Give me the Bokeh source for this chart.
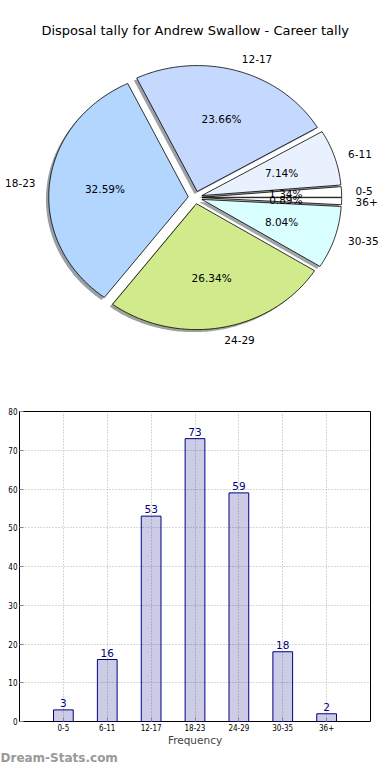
import numpy as np
from bokeh.plotting import figure
from bokeh.models import Range1d, Label, Title, FixedTicker, ColumnDataSource
from bokeh.embed import file_html
from bokeh.resources import INLINE
from bokeh.core.properties import value

# ---- data ----
categories = ["0-5", "6-11", "12-17", "18-23", "24-29", "30-35", "36+"]
counts = [3, 16, 53, 73, 59, 18, 2]
slice_colors = ["#ffffff", "#e9f1ff", "#c5d9ff", "#b3d6ff", "#d0ea8c", "#d9ffff", "#ffffff"]
y_ticks = [0, 10, 20, 30, 40, 50, 60, 70, 80]
title_text = "Disposal tally for Andrew Swallow - Career tally"
x_label = "Frequency"
credit = "Dream-Stats.com"

FONT = "DejaVu Sans"
W = 382

# ---- pie geometry (derived from counts) ----
EXPLODE = 0.05
total = float(sum(counts))
fracs = np.array(counts) / total
ends = np.cumsum(fracs) * 2 * np.pi
starts = ends - fracs * 2 * np.pi
mids = (starts + ends) / 2
ox = EXPLODE * np.cos(mids)
oy = EXPLODE * np.sin(mids)

wx, wy, sx, sy = [], [], [], []
for s, e, x0, y0 in zip(starts, ends, ox, oy):
    n = max(int(np.degrees(e - s)) + 2, 3)
    t = np.linspace(s, e, n)
    px = np.concatenate([[x0], x0 + np.cos(t), [x0]])
    py = np.concatenate([[y0], y0 + np.sin(t), [y0]])
    wx.append(px.tolist()); wy.append(py.tolist())
    sx.append((px - 0.02).tolist()); sy.append((py - 0.02).tolist())

def dark(c):
    r, g, b = int(c[1:3], 16), int(c[3:5], 16), int(c[5:7], 16)
    return "#%02x%02x%02x" % (int(r * 0.3), int(g * 0.3), int(b * 0.3))

shadow_colors = [dark(c) for c in slice_colors]

RX, RY = 139.5, 125.9
CXP, CYP = 194.7, 197.0
H1 = 385
p1 = figure(width=W, height=H1,
            x_range=Range1d(-CXP / RX, (W - CXP) / RX),
            y_range=Range1d(-(H1 - CYP) / RY, CYP / RY),
            output_backend="svg", toolbar_location=None,
            x_axis_type=None, y_axis_type=None, min_border=0,
            outline_line_color=None)

p1.patches(sx, sy, fill_color=shadow_colors, fill_alpha=0.5, line_color=None)
p1.patches(wx, wy, fill_color=slice_colors, line_color="black", line_width=0.8)

lx = ox + 1.1 * np.cos(mids)
ly = oy + 1.1 * np.sin(mids)
lab_src = ColumnDataSource(dict(x=lx, y=ly, text=categories,
                                align=["left" if v > 0 else "right" for v in lx]))
p1.text(x="x", y="y", text="text", text_align="align", text_baseline="middle",
        source=lab_src, text_font=value(FONT), text_font_size="10.5px", text_color="black")

pct = ["%.2f%%" % (100 * f) for f in fracs]
pct_src = ColumnDataSource(dict(x=ox + 0.6 * np.cos(mids), y=oy + 0.6 * np.sin(mids), text=pct))
p1.text(x="x", y="y", text="text", text_align="center", text_baseline="middle",
        source=pct_src, text_font=value(FONT), text_font_size="10.5px", text_color="black")

p1.add_layout(Label(x=0, y=(CYP - 30) / RY, text=title_text, text_align="center",
                    text_baseline="middle", text_font=FONT, text_font_size="13px",
                    text_color="black"))

# ---- bar chart ----
positions = np.arange(1, len(categories) + 1)
H2 = 764 - H1
p2 = figure(width=W, height=H2, x_range=Range1d(0, len(categories) + 1),
            y_range=Range1d(y_ticks[0], y_ticks[-1]),
            output_backend="svg", toolbar_location=None,
            min_border_top=26, min_border_right=W - 370, min_border_left=19,
            min_border_bottom=0)
p2.outline_line_color = "black"
p2.outline_line_width = 1
p2.vbar(x=positions, top=counts, width=0.45, fill_color="navy", fill_alpha=0.2,
        line_color="navy", line_width=1)
p2.text(x=positions, y=counts, text=[str(c) for c in counts], text_align="center",
        text_baseline="bottom", y_offset=-3, text_font=value(FONT),
        text_font_size="10.5px", text_color="navy")

p2.xaxis.ticker = FixedTicker(ticks=positions.tolist())
p2.xaxis.major_label_overrides = {int(p): c for p, c in zip(positions, categories)}
p2.yaxis.ticker = FixedTicker(ticks=y_ticks)
for ax in (p2.xaxis[0], p2.yaxis[0]):
    ax.axis_line_color = None
    ax.major_tick_in = 4
    ax.major_tick_out = 0
    ax.minor_tick_line_color = None
    ax.major_tick_line_color = "#888888"
    ax.major_label_text_font = "DejaVu Sans Condensed"
    ax.major_label_text_font_size = "8px"
    ax.major_label_text_color = "black"
    ax.major_label_standoff = 2
p2.xaxis.axis_label = x_label
p2.xaxis.axis_label_text_font = FONT
p2.xaxis.axis_label_text_font_size = "10.5px"
p2.xaxis.axis_label_standoff = 0
p2.xaxis.axis_label_text_font_style = "normal"
p2.grid.grid_line_color = "#b0b0b0"
p2.grid.grid_line_dash = "1 2"
p2.grid.grid_line_width = 1

p2.add_layout(Title(text=credit, align="left", text_color="#999999", text_font=FONT,
                    text_font_size="12px", text_font_style="bold", offset=-19,
                    standoff=0), "below")

open("out.html", "w").write(file_html([p1, p2], INLINE))
